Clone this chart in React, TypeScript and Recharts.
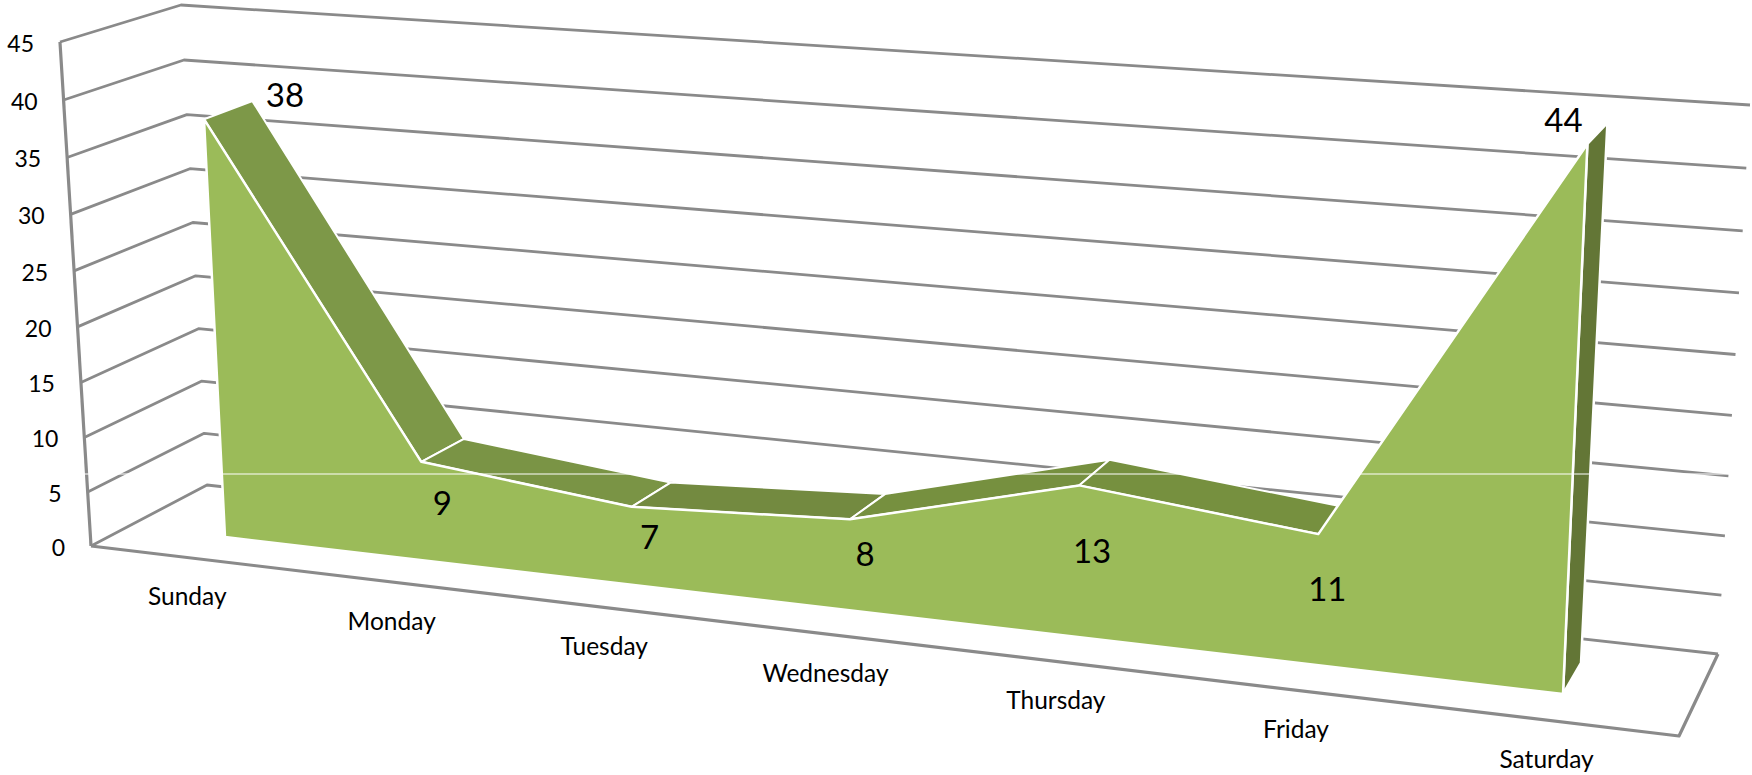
import React from "react";
import { ComposedChart, Area, XAxis, YAxis } from "recharts";

const days = ["Sunday", "Monday", "Tuesday", "Wednesday", "Thursday", "Friday", "Saturday"];
const counts = [38, 9, 7, 8, 13, 11, 44];
const yTicks = [0, 5, 10, 15, 20, 25, 30, 35, 40, 45];
const chartData = days.map((day, i) => ({ day, count: counts[i] }));

// chart frame (flat plot rectangle, later projected)
const CW = 1752, CH = 775, M = 40, AX = 40;
const PL = M + AX, PT = M, PW = CW - 2 * M - AX, PH = CH - 2 * M - AX;
const BAND = PW / days.length;
const toU = (x: number) => (x - PL) / PW;
const toV = (y: number) => (PT + PH - y) / PH;

type Pt = [number, number];
// perspective planes: maps a unit square [u0,u1]x[0,1] on a quad
function plane(q: Pt[], u0 = 0, u1 = 1) {
  const [[x0, y0], [x1, y1], [x2, y2], [x3, y3]] = q;
  const dx1 = x1 - x2, dx2 = x3 - x2, sx = x0 - x1 + x2 - x3;
  const dy1 = y1 - y2, dy2 = y3 - y2, sy = y0 - y1 + y2 - y3;
  const den = dx1 * dy2 - dx2 * dy1;
  const g = (sx * dy2 - dx2 * sy) / den, h = (dx1 * sy - sx * dy1) / den;
  const a = x1 - x0 + g * x1, b = x3 - x0 + h * x3;
  const d = y1 - y0 + g * y1, e = y3 - y0 + h * y3;
  return (uu: number, v: number): Pt => {
    const u = (uu - u0) / (u1 - u0);
    const w = g * u + h * v + 1;
    return [(a * u + b * v + x0) / w, (d * u + e * v + y0) / w];
  };
}
const U0 = 1 / 14, U1 = 13 / 14;
const wallFront = plane([[91, 546], [1679, 736], [1717, 160], [60, 42]]);
const wallBack = plane([[207, 485], [1718, 654], [1750, 105], [181, 5]]);
const areaFront = plane([[225, 537], [1563, 694], [1588, 131], [200, 39.5]], U0, U1);
const areaBack = plane([[270, 514], [1581, 663], [1608, 110], [249, 22.5]], U0, U1);

const pts = (list: Pt[]) => list.map((p) => p[0].toFixed(1) + "," + p[1].toFixed(1)).join(" ");

const GRID = "#8a8a8a";
const FRONT = "#9BBB59";
const SIDE = "#637636";
const ribbonShades = ["#7D9848", "#7A9445", "#738A40", "#76903F", "#76903F"];
const labelShift: Pt[] = [[81, -25], [21, 40], [18, 29], [15, 34], [13, 65], [9, 54], [-24, -25]];
const FONT = "Lato, Carlito, sans-serif";

function YTick(props: any) {
  const { y, payload, index } = props;
  const v = toV(y);
  const a = wallFront(0, v), b = wallBack(0, v), c = wallBack(1, v);
  return (
    <g>
      <polyline points={pts([a, b, c])} fill="none" stroke={GRID} strokeWidth={2.8} strokeLinejoin="round" />
      {index === 0 ? (
        <line x1={wallFront(0, 0)[0]} y1={wallFront(0, 0)[1]} x2={wallFront(0, 1)[0]} y2={wallFront(0, 1)[1]} stroke={GRID} strokeWidth={3.2} />
      ) : null}
      <text x={a[0] - 26} y={a[1] + 1} textAnchor="end" dominantBaseline="central" fontFamily={FONT} fontSize={23} fill="#000">
        {payload.value}
      </text>
    </g>
  );
}

function XTick(props: any) {
  const { x, payload, index } = props;
  const p = wallFront(toU(x), 0);
  return (
    <g>
      {index === 0 ? (
        <polyline points={pts([wallFront(0, 0), wallFront(1, 0), wallBack(1, 0)])} fill="none" stroke={GRID} strokeWidth={3.2} strokeLinejoin="round" />
      ) : null}
      <text x={p[0] - 3} y={p[1] + 38} textAnchor="middle" dominantBaseline="central" fontFamily={FONT} fontSize={24.5} fill="#000">
        {payload.value}
      </text>
    </g>
  );
}

function Scene(props: any) {
  const { index, points } = props;
  if (index !== 0 || !points) return <g />;
  const uv = points.map((p: any) => [toU(p.x), toV(p.y)] as Pt);
  const top = uv.map((c: Pt) => areaFront(c[0], c[1]));
  const rear = uv.map((c: Pt) => areaBack(c[0], c[1]));
  const n = uv.length;
  const baseL = areaFront(uv[0][0], 0);
  const baseR = areaFront(uv[n - 1][0], 0);
  const rearBaseR = areaBack(uv[n - 1][0], 0);
  const halo = { stroke: "#fff", strokeLinejoin: "round" as const };
  return (
    <g>
      <polygon points={pts([top[n - 1], rear[n - 1], rearBaseR, baseR])} fill={SIDE} {...halo} strokeWidth={2.5} />
      {ribbonShades.map((c, i) => (
        <polygon key={i} points={pts([top[i], rear[i], rear[i + 1], top[i + 1]])} fill={c} {...halo} strokeWidth={2} />
      ))}
      <polygon points={pts([baseL, ...top, baseR])} fill={FRONT} {...halo} strokeWidth={2.5} />
      <line x1={0} x2={CW} y1={474} y2={474} stroke="#fff" strokeWidth={1} />
      {counts.map((c, i) => (
        <text key={i} x={top[i][0] + labelShift[i][0]} y={top[i][1] + labelShift[i][1]} textAnchor="middle" dominantBaseline="central" fontFamily={FONT} fontSize={33} fill="#000">
          {c}
        </text>
      ))}
    </g>
  );
}

const layer: React.CSSProperties = { position: "absolute", left: 0, top: 0 };

export default function App() {
  return (
    <div style={{ ...layer, width: CW, height: CH, background: "#fff" }}>
      <div style={layer}>
        <ComposedChart width={CW} height={CH} data={chartData} margin={{ top: M, right: M, bottom: M, left: M }}>
          <XAxis dataKey="day" scale="point" height={AX} interval={0} axisLine={false} tickLine={false} padding={{ left: BAND / 2, right: BAND / 2 }} tick={XTick} />
          <YAxis width={AX} domain={[0, 45]} ticks={yTicks} interval={0} axisLine={false} tickLine={false} tick={YTick} />
          <Area dataKey="count" type="linear" fill="none" stroke="none" isAnimationActive={false} activeDot={false} />
        </ComposedChart>
      </div>
      <div style={layer}>
        <ComposedChart width={CW} height={CH} data={chartData} margin={{ top: M, right: M, bottom: M + AX, left: M + AX }}>
          <XAxis dataKey="day" scale="point" hide padding={{ left: BAND / 2, right: BAND / 2 }} />
          <YAxis hide domain={[0, 45]} ticks={yTicks} />
          <Area dataKey="count" type="linear" fill="none" stroke="none" isAnimationActive={false} dot={Scene} activeDot={false} />
        </ComposedChart>
      </div>
    </div>
  );
}
